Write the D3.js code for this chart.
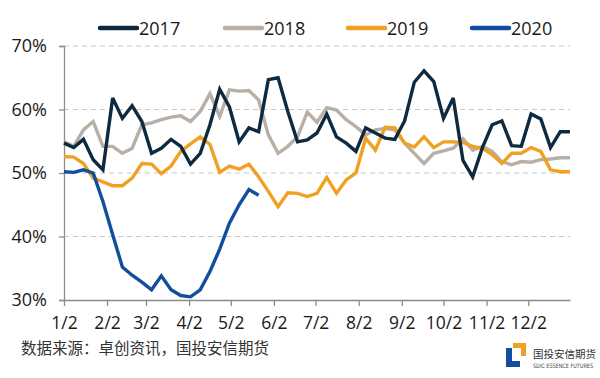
<!DOCTYPE html>
<html><head><meta charset="utf-8">
<script src="https://cdn.jsdelivr.net/npm/d3@7/dist/d3.min.js"></script>
<style>
html,body{margin:0;padding:0;background:#fff;}
svg{display:block;}
</style></head>
<body>
<svg id="c" width="600" height="378"></svg>
<script>
const weeks = ["2019-01-02","2019-01-09","2019-01-16","2019-01-23","2019-01-30","2019-02-06","2019-02-13","2019-02-20","2019-02-27","2019-03-06","2019-03-13","2019-03-20","2019-03-27","2019-04-03","2019-04-10","2019-04-17","2019-04-24","2019-05-01","2019-05-08","2019-05-15","2019-05-22","2019-05-29","2019-06-05","2019-06-12","2019-06-19","2019-06-26","2019-07-03","2019-07-10","2019-07-17","2019-07-24","2019-07-31","2019-08-07","2019-08-14","2019-08-21","2019-08-28","2019-09-04","2019-09-11","2019-09-18","2019-09-25","2019-10-02","2019-10-09","2019-10-16","2019-10-23","2019-10-30","2019-11-06","2019-11-13","2019-11-20","2019-11-27","2019-12-04","2019-12-11","2019-12-18","2019-12-25","2020-01-01"];
const s2017 = [54.7,54.0,55.3,52.1,50.5,61.8,58.6,60.6,58.1,53.1,53.9,55.3,54.2,51.4,53.1,57.6,63.2,60.4,54.9,57.1,56.5,64.7,65.0,59.7,54.9,55.2,56.3,59.3,55.7,54.7,53.4,57.1,56.3,55.5,55.3,58.2,64.3,66.1,64.4,58.6,61.8,52.0,49.4,54.0,57.6,58.2,54.3,54.2,59.3,58.5,54.0,56.5,56.5];
const s2018 = [54.9,54.2,56.8,58.1,54.2,54.2,53.1,53.9,57.6,57.9,58.4,58.8,59.0,58.1,59.7,62.5,58.9,63.1,62.9,63.0,61.5,56.0,53.1,54.2,55.7,59.6,58.0,60.3,59.9,58.4,57.3,56.0,56.8,57.0,56.8,54.7,53.1,51.5,53.1,53.5,53.9,55.4,53.6,54.2,53.4,51.8,51.3,51.8,51.7,52.1,52.2,52.4,52.4];
const s2019 = [52.6,52.5,51.5,49.2,48.6,48.0,48.0,49.2,51.5,51.4,49.9,51.1,53.4,54.6,55.7,54.5,50.1,51.1,50.6,51.4,49.4,47.1,44.7,46.9,46.8,46.3,46.8,49.3,46.8,48.9,50.0,55.5,53.6,57.2,57.1,54.7,54.1,55.7,54.0,54.9,54.9,54.8,54.2,53.9,52.9,51.5,53.1,53.1,54.0,53.4,50.5,50.2,50.2];
const s2020 = [50.2,50.1,50.5,50.0,45.5,40.3,35.2,33.9,32.8,31.6,33.8,31.6,30.7,30.5,31.6,34.5,38.0,42.1,45.0,47.4,46.5];
const seriesNames = ["2017","2018","2019","2020"];
const seriesColors = ["#0e2a40","#b8afa7","#f0a122","#124e9e"];
const yTicks = [30,40,50,60,70];
const xTickDates = ["2019-01-02","2019-02-02","2019-03-02","2019-04-02","2019-05-02","2019-06-02","2019-07-02","2019-08-02","2019-09-02","2019-10-02","2019-11-02","2019-12-02"];
const sourceText = "数据来源：卓创资讯，国投安信期货";

(function(){
const parse = d3.utcParse("%Y-%m-%d");
const dates = weeks.map(parse);
const svg = d3.select("#c");
const mL = 64, mR = 570, mT = 46, mB = 300;

const x = d3.scaleUtc().domain([dates[0], dates[dates.length-1]]).range([mL, mR]);
const y = d3.scaleLinear().domain([30,70]).range([mB, mT]);

const numFont = "'Open Sans', 'Noto Sans', sans-serif";

// grid
svg.append("g").selectAll("line").data(yTicks.filter(t=>t>30)).join("line")
  .attr("x1", mL).attr("x2", mR)
  .attr("y1", d=>y(d)).attr("y2", d=>y(d))
  .attr("stroke", "#c8c8c8").attr("stroke-width", 1).attr("stroke-dasharray", "5,4");

// y axis
const yAxis = d3.axisLeft(y).tickValues(yTicks).tickFormat(d=>d+"%").tickSize(5).tickPadding(12);
const gy = svg.append("g").attr("transform", `translate(${mL},0)`).call(yAxis);
gy.select(".domain").attr("stroke", "#8c8c8c").attr("stroke-width", 1.3);
gy.selectAll(".tick line").attr("stroke", "#8c8c8c").attr("stroke-width", 1.3);
gy.selectAll(".tick text").attr("font-family", numFont).attr("font-size", 18).attr("fill", "#1a1a1a");

// x axis
const xAxis = d3.axisBottom(x).tickValues(xTickDates.map(parse))
  .tickFormat(d=>(d.getUTCMonth()+1)+"/"+d.getUTCDate()).tickSize(6).tickPadding(11).tickSizeOuter(0);
const gx = svg.append("g").attr("transform", `translate(0,${mB})`).call(xAxis);
gx.select(".domain").attr("stroke", "#8c8c8c").attr("stroke-width", 1.3);
gx.selectAll(".tick line").attr("stroke", "#8c8c8c").attr("stroke-width", 1.3);
gx.selectAll(".tick text").attr("font-family", numFont).attr("font-size", 17.5).attr("fill", "#1a1a1a");

// lines
const allSeries = [s2017, s2018, s2019, s2020];
const line = d3.line().x((d,i)=>x(dates[i])).y(d=>y(d));
const drawOrder = [1,2,0,3];
drawOrder.forEach(k=>{
  svg.append("path").datum(allSeries[k]).attr("d", line)
    .attr("fill","none").attr("stroke", seriesColors[k]).attr("stroke-width", 3.4)
    .attr("stroke-linejoin","miter").attr("stroke-miterlimit",3);
});

// legend
const legX = [100, 225, 348, 472];
const lg = svg.append("g");
seriesNames.forEach((n,k)=>{
  lg.append("line").attr("x1", legX[k]).attr("x2", legX[k]+37).attr("y1", 28).attr("y2", 28)
    .attr("stroke", seriesColors[k]).attr("stroke-width", 4.5).attr("stroke-linecap","round");
  lg.append("text").attr("x", legX[k]+39).attr("y", 34.5).text(n)
    .attr("font-family", numFont).attr("font-size", 18).attr("fill", "#1a1a1a");
});

// source
svg.append("text").attr("x", 21).attr("y", 354).text(sourceText)
  .attr("font-family", "'Noto Sans CJK SC', sans-serif").attr("font-size", 15.5).attr("fill", "#333");

// logo
const logo = svg.append("g");
logo.append("path").attr("d","M513,343 H526 V356 H521 V348 H513 Z").attr("fill","#f0a122");
logo.append("path").attr("d","M506,348 H512 V361 H520 V367 H506 Z").attr("fill","#124e9e");
logo.append("text").attr("x", 533).attr("y", 358).text("国投安信期货")
  .attr("font-family", "'Noto Sans CJK SC', sans-serif").attr("font-size", 10.5).attr("fill", "#333");
logo.append("text").attr("x", 533).attr("y", 368).text("SDIC ESSENCE FUTURES")
  .attr("font-family", "'Liberation Sans Narrow', 'DejaVu Sans Condensed', sans-serif").attr("font-size", 6)
  .attr("textLength", 60).attr("lengthAdjust","spacingAndGlyphs").attr("fill", "#444");
})();
</script>
</body></html>
